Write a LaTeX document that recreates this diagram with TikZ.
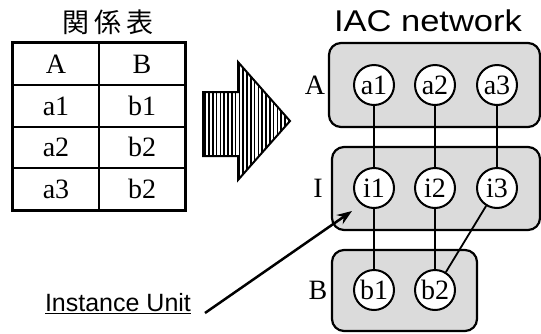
\documentclass[tikz,border=0pt]{standalone}
\usepackage{fontspec}
\setmainfont{Liberation Serif}
\setsansfont{Liberation Sans}
\newfontfamily\jpfont{Noto Sans CJK JP}
\usetikzlibrary{arrows.meta,patterns.meta}

\begin{document}
\begin{tikzpicture}[
            x = 1pt, y = -1pt,
            every node/.style={inner sep=0pt, text depth=0pt},
            cell/.style={font=\fontsize{28}{28}\selectfont},
            layer/.style={draw, line width=2.2pt, rounded corners=12pt, fill=gray!28},
            unit/.style={circle, draw, line width=2pt, fill=white, minimum size=40pt, font=\fontsize{28}{28}\selectfont},
            link/.style={line width=1.8pt},
            ]

        \useasboundingbox (0,0) rectangle (541,333);

        % relation table
        \node[font=\jpfont\fontsize{27}{27}\selectfont, anchor=west] (jtitle) at (62,21) {関\hspace{5pt}係\hspace{5pt}表};
        \draw[line width=3pt] (12,42) rectangle (185,210);
        \draw[line width=1.4pt] (99,42) -- (99,210);
        \foreach \y in {85,127,168}
            \draw[line width=1.4pt] (12,\y) -- (185,\y);
        \node[cell] (ha) at (56,64) {A};
        \node[cell] (hb) at (142,64) {B};
        \node[cell] (ra1) at (56,106) {a1};
        \node[cell] (rb1) at (142,106) {b1};
        \node[cell] (ra2) at (56,147) {a2};
        \node[cell] (rb2) at (142,147) {b2};
        \node[cell] (ra3) at (56,189) {a3};
        \node[cell] (rb3) at (142,189) {b2};

        % big arrow
        \draw[line width=2pt, pattern={Lines[angle=90, distance=3.8pt, line width=1.5pt]}]
            (203,92) -- (238,92) -- (238,62) -- (290,121) -- (238,180) -- (238,156) -- (203,156) -- cycle;

        % IAC network
        \node[font=\sffamily\fontsize{30}{30}\selectfont, xscale=1.15, transform shape] (ntitle) at (428,21) {IAC network};
        \draw[layer] (329,43) rectangle (540,127);
        \draw[layer] (332,147) rectangle (540,230);
        \draw[layer] (332,250) rectangle (477,331);
        \node[cell] (la) at (315,85) {A};
        \node[cell] (li) at (318,188) {I};
        \node[cell] (lb) at (318,290) {B};

        \node[unit] (a1) at (374,85) {a1};
        \node[unit] (a2) at (435,85) {a2};
        \node[unit] (a3) at (497,85) {a3};
        \node[unit] (i1) at (374,188) {i1};
        \node[unit] (i2) at (435,188) {i2};
        \node[unit] (i3) at (497,188) {i3};
        \node[unit] (b1) at (374,290) {b1};
        \node[unit] (b2) at (435,290) {b2};

        \draw[link] (a1) -- (i1) -- (b1);
        \draw[link] (a2) -- (i2) -- (b2);
        \draw[link] (a3) -- (i3) -- (b2);

        % instance unit pointer
        \node[font=\sffamily\fontsize{25}{25}\selectfont] (iu) at (118,302) {\underline{Instance Unit}};
        \coordinate (iutail) at (205,313);
        \coordinate (iutip) at (352,211);
        \draw[line width=2.5pt, -{Stealth[length=15pt, width=11pt]}] (iutail) -- (iutip);
    \end{tikzpicture}
\end{document}
